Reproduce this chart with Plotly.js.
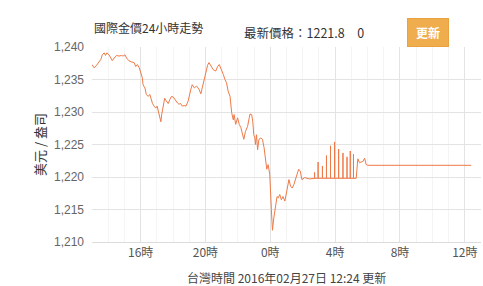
<!DOCTYPE html>
<html>
<head>
<meta charset="utf-8">
<script src="https://cdn.plot.ly/plotly-3.0.1.min.js"></script>
<style>
html,body{margin:0;padding:0;background:#fff;}
#chart{width:483px;height:286px;}
</style>
</head>
<body>
<div id="chart"></div>
<script>
// Time of day (13:00 on 2016-02-26 through 12:24 on 2016-02-27)
var times = [
 "13:00","13:08","13:17","13:26","13:33","13:38","13:45","13:50","13:55","14:03",
 "14:10","14:15","14:22","14:31","14:40","14:49","14:55","15:02","15:08","15:16",
 "15:26","15:36","15:42","15:48","15:55","15:59","16:06","16:09","16:16","16:21",
 "16:28","16:34","16:38","16:44","16:50","16:56","17:01","17:06","17:11","17:15",
 "17:18","17:23","17:29","17:35","17:42","17:48","17:54","18:01","18:09","18:16",
 "18:22","18:28","18:34","18:41","18:48","18:56","19:06","19:11","19:19","19:27",
 "19:36","19:43","19:48","19:56","20:01","20:08","20:13","20:20","20:29","20:38",
 "20:45","20:51","20:57","21:06","21:12","21:18","21:24","21:31","21:37","21:43",
 "21:46","21:52","21:59","22:05","22:11","22:16","22:22","22:28","22:36","22:42",
 "22:45","22:51","22:55","22:59","23:03","23:05","23:09","23:13","23:18","23:25",
 "23:31","23:37","23:42","23:47","23:52","23:58","00:04","00:08","00:13","00:20",
 "00:25","00:30","00:35","00:41","00:47","00:54","01:00","01:06","01:09","01:15",
 "01:21","01:27","01:33","01:39","01:45","01:51","01:57","02:07","02:26",
 "02:44","02:44","02:44",
 "02:57","02:57","02:57",
 "03:13","03:13","03:13",
 "03:28","03:28","03:28",
 "03:43","03:43","03:43",
 "03:58","03:58","03:58",
 "04:13","04:13","04:13",
 "04:29","04:29","04:29",
 "04:44","04:44","04:44",
 "04:56","04:56","04:56",
 "05:08","05:08","05:08",
 "05:18","05:24","05:30","05:43","05:49","05:55","06:01","12:24"
];
var prices = [
 1237.3,1236.8,1237.2,1237.8,1238.1,1238.8,1239.1,1238.7,1239.1,1238.8,
 1238.3,1237.9,1238.3,1238.7,1238.6,1238.7,1238.6,1238.8,1238.3,1237.9,
 1237.7,1237.6,1237.0,1237.3,1236.8,1236.3,1235.3,1234.2,1233.7,1232.7,
 1232.4,1232.7,1232.1,1231.3,1230.9,1230.6,1230.9,1230.1,1229.4,1228.5,
 1229.6,1230.9,1232.1,1231.7,1231.3,1231.9,1232.4,1232.3,1231.7,1231.4,
 1231.2,1231.3,1230.9,1231.0,1230.9,1231.7,1233.5,1234.2,1233.7,1234.0,
 1233.5,1232.8,1233.7,1235.3,1236.0,1237.2,1237.6,1237.2,1236.5,1236.3,
 1237.0,1237.3,1236.8,1235.8,1235.0,1234.5,1233.2,1232.4,1229.9,1228.8,
 1229.6,1228.1,1229.1,1228.1,1227.6,1226.5,1225.8,1227.0,1227.8,1229.1,
 1229.7,1229.6,1228.6,1226.5,1226.0,1225.0,1226.5,1224.2,1225.8,1226.0,
 1225.8,1224.5,1222.4,1221.2,1221.9,1220.4,1215.0,1211.8,1213.7,1216.0,
 1217.0,1216.8,1217.3,1216.5,1217.0,1216.3,1217.8,1218.8,1219.6,1218.6,
 1218.3,1218.8,1219.6,1220.6,1221.2,1220.9,1219.6,1219.9,1219.7,
 1219.8,1220.7,1219.8,
 1219.8,1222.3,1219.8,
 1219.8,1221.7,1219.8,
 1219.8,1223.3,1219.8,
 1219.8,1224.8,1219.8,
 1219.8,1225.4,1219.8,
 1219.8,1224.3,1219.8,
 1219.8,1223.7,1219.8,
 1219.8,1223.1,1219.8,
 1219.8,1224.0,1219.8,
 1219.8,1223.5,1219.8,
 1219.8,1222.8,1222.2,1222.4,1222.9,1221.9,1221.8,1221.8
];
var tickTimes = ["2016-02-26 16:00","2016-02-26 20:00","2016-02-27 00:00","2016-02-27 04:00","2016-02-27 08:00","2016-02-27 12:00"];
var tickLabels = ["16時","20時","0時","4時","8時","12時"];
var yTicks = [1210,1215,1220,1225,1230,1235,1240];

var stamps = times.map(function(t){
  var h = parseInt(t.slice(0,2),10);
  return (h >= 13 ? "2016-02-26 " : "2016-02-27 ") + t;
});

var FONT = "Liberation Sans, Arial, 'Noto Sans CJK TC', sans-serif";
var CJK = "'Noto Sans CJK TC', 'Liberation Sans', sans-serif";

var trace = {
  x: stamps, y: prices, type: "scatter", mode: "lines",
  line: {color: "#ee7a48", width: 1},
  hoverinfo: "skip"
};

var layout = {
  width: 483, height: 286,
  margin: {l: 92, r: 2, t: 47, b: 44},
  paper_bgcolor: "#fff", plot_bgcolor: "#fff",
  showlegend: false,
  font: {family: FONT, size: 12, color: "#666"},
  xaxis: {
    type: "date",
    range: ["2016-02-26 13:00", "2016-02-27 13:00"],
    tickmode: "array", tickvals: tickTimes, ticktext: tickLabels,
    showgrid: true, gridcolor: "#e3e3e3", gridwidth: 1,
    minor: {dtick: 3600000, tick0: "2016-02-26 13:00", showgrid: true, gridcolor: "#f4f4f4", gridwidth: 1},
    showline: true, linecolor: "#dcdcdc", linewidth: 1,
    ticks: "", zeroline: false,
    tickfont: {family: CJK, size: 12, color: "#555"}
  },
  yaxis: {
    range: [1210, 1240],
    tickmode: "array", tickvals: yTicks,
    tickformat: ",d",
    showgrid: true, gridcolor: "#e3e3e3", gridwidth: 1,
    zeroline: false, showline: false, ticks: "",
    ticklabelstandoff: 7,
    tickfont: {family: FONT, size: 12, color: "#666"},
    title: {text: "美元 / 盎司", font: {family: CJK, size: 13, color: "#333"}, standoff: 5}
  },
  annotations: [
    {xref: "paper", yref: "paper", x: 0.0, y: 1.0, yshift: 20, xanchor: "left", yanchor: "middle",
     text: "國際金價24小時走勢", showarrow: false, font: {family: CJK, size: 12, color: "#333"}},
    {xref: "paper", yref: "paper", x: 0.385, y: 1.0, yshift: 15, xanchor: "left", yanchor: "middle",
     text: "最新價格：1221.8　0", showarrow: false, font: {family: CJK, size: 12.5, color: "#333"}},
    {xref: "paper", yref: "paper", x: 0.8645, y: 1.0, yshift: 15, xanchor: "center", yanchor: "middle",
     text: "<b>更新</b>", showarrow: false, font: {family: CJK, size: 12, color: "#fff"},
     bgcolor: "#f0ad4e", bordercolor: "#eaa140", borderwidth: 1, borderpad: 5, width: 30},
    {xref: "paper", yref: "paper", x: 0.5, y: 0, yshift: -35, xanchor: "center", yanchor: "middle",
     text: "台灣時間 2016年02月27日 12:24 更新", showarrow: false, font: {family: CJK, size: 12, color: "#444"}}
  ]
};

Plotly.newPlot("chart", [trace], layout, {displayModeBar: false, staticPlot: true});
</script>
</body>
</html>
